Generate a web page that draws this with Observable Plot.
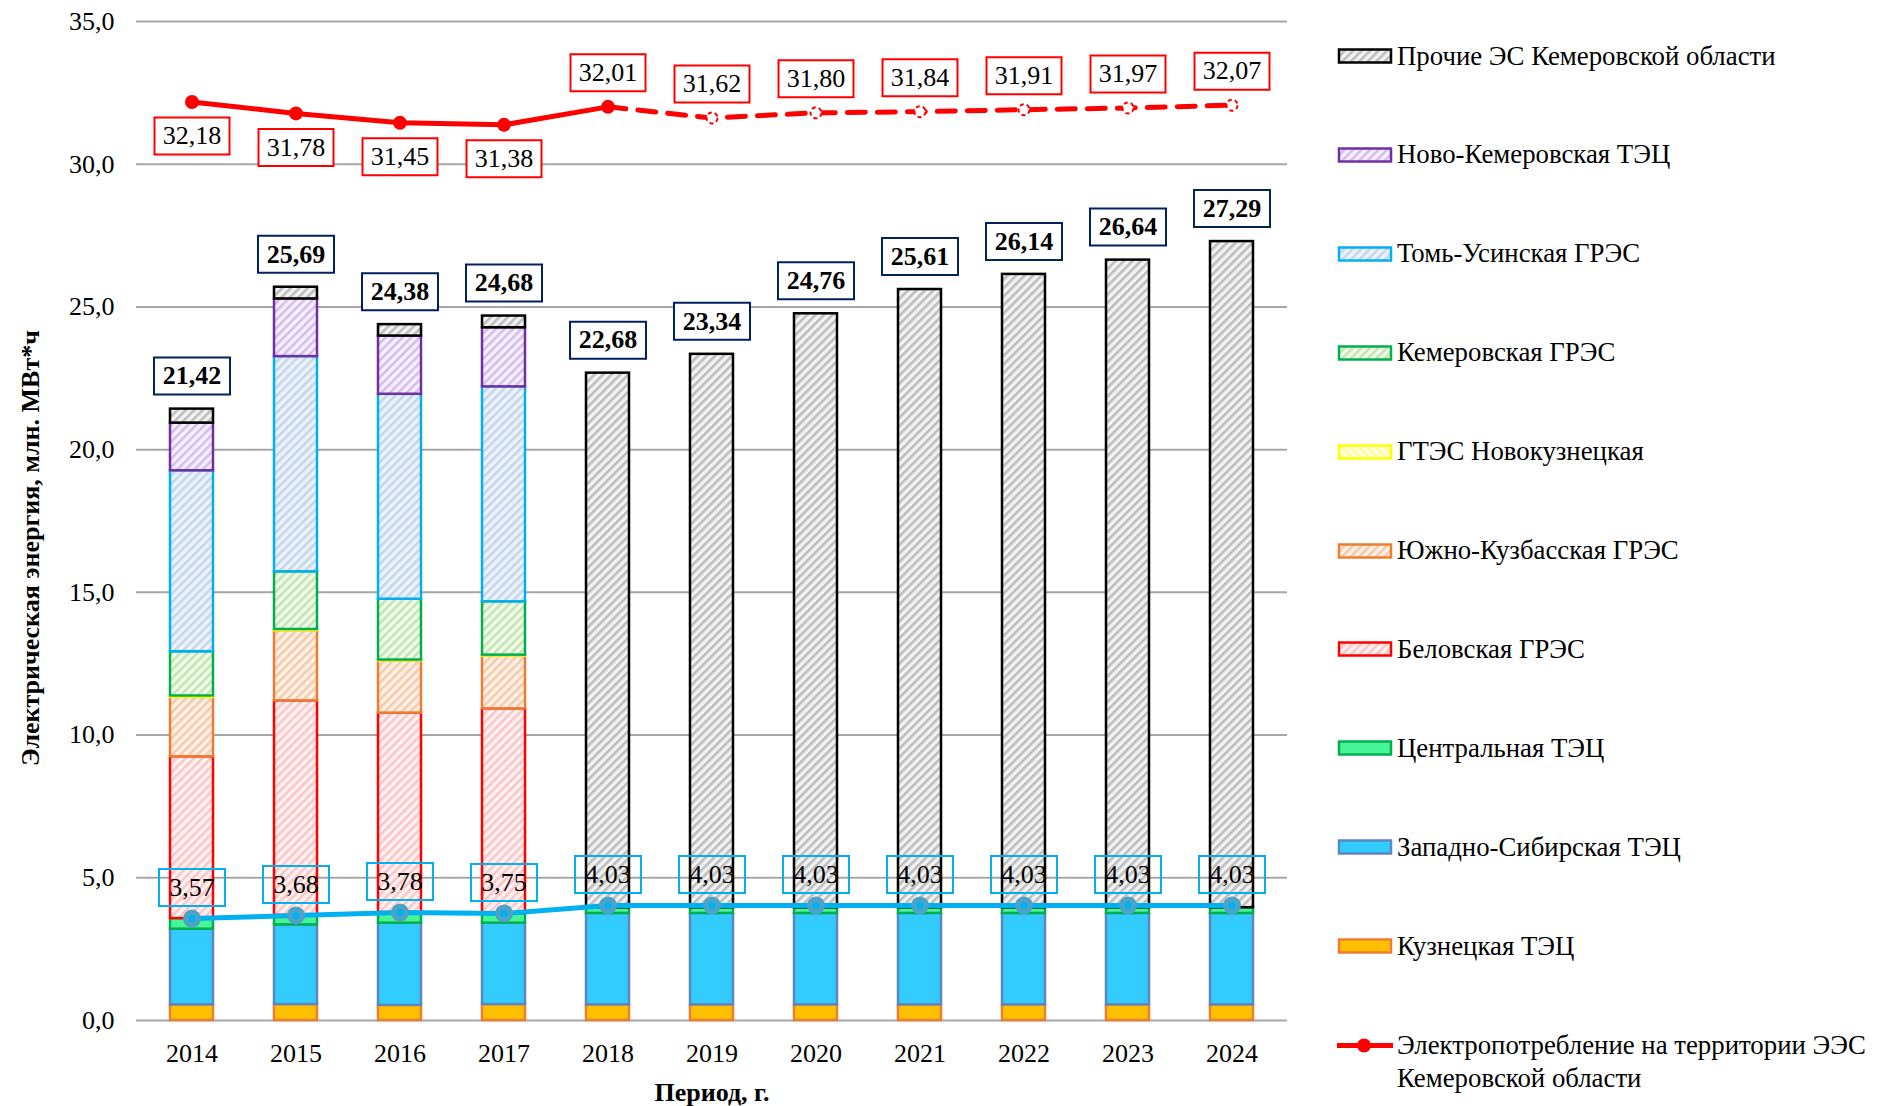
<!DOCTYPE html>
<html>
<head>
<meta charset="utf-8">
<script src="https://cdn.jsdelivr.net/npm/d3@7"></script>
<script src="https://cdn.jsdelivr.net/npm/@observablehq/plot@0.6"></script>
<style>
  body { margin: 0; background: #fff; }
  #wrap { position: relative; width: 1886px; height: 1106px; background: #fff; font-family: "Liberation Serif", "Times New Roman", serif; color: #000; }
  #legend { position: absolute; left: 1337px; top: 0; width: 549px; height: 1106px; }
  .item { position: absolute; left: 0; display: flex; align-items: center; font-size: 26.8px; line-height: 33px; white-space: nowrap; }
  .item svg { flex: none; margin-right: 4px; }
</style>
</head>
<body>
<svg width="0" height="0" style="position:absolute"><defs id="pdefs"></defs></svg>
<div id="wrap">
  <div id="chart"></div>
  <div id="legend"></div>
</div>
<script>
// ---------- data ----------
const years = ["2014","2015","2016","2017","2018","2019","2020","2021","2022","2023","2024"];
const kuzn    = [0.55, 0.56, 0.53, 0.56, 0.55, 0.55, 0.55, 0.55, 0.55, 0.55, 0.55];
const zapSib  = [2.65, 2.79, 2.88, 2.85, 3.20, 3.20, 3.20, 3.20, 3.20, 3.20, 3.20];
const central = [0.37, 0.33, 0.37, 0.34, 0.20, 0.20, 0.20, 0.20, 0.20, 0.20, 0.20];
const belov   = [5.67, 7.52, 6.99, 7.17, 0, 0, 0, 0, 0, 0, 0];
const yuzhKuz = [2.08, 2.46, 1.83, 1.85, 0, 0, 0, 0, 0, 0, 0];
const gtes    = [0.05, 0.04, 0.03, 0.03, 0, 0, 0, 0, 0, 0, 0];
const kemGres = [1.55, 2.02, 2.13, 1.87, 0, 0, 0, 0, 0, 0, 0];
const tomUs   = [6.34, 7.54, 7.18, 7.53, 0, 0, 0, 0, 0, 0, 0];
const novoKem = [1.67, 2.02, 2.04, 2.07, 0, 0, 0, 0, 0, 0, 0];
const prochie = [0.49, 0.41, 0.40, 0.41, 18.73, 19.39, 20.81, 21.66, 22.19, 22.69, 23.34];
const totals  = [21.42, 25.69, 24.38, 24.68, 22.68, 23.34, 24.76, 25.61, 26.14, 26.64, 27.29];
const consumption = [32.18, 31.78, 31.45, 31.38, 32.01, 31.62, 31.80, 31.84, 31.91, 31.97, 32.07];
const ownLine = [3.57, 3.68, 3.78, 3.75, 4.03, 4.03, 4.03, 4.03, 4.03, 4.03, 4.03];
const yTicks = [0, 5, 10, 15, 20, 25, 30, 35];

// series, bottom to top
const seriesNames = [
  "Кузнецкая ТЭЦ",
  "Западно-Сибирская ТЭЦ",
  "Центральная ТЭЦ",
  "Беловская ГРЭС",
  "Южно-Кузбасская ГРЭС",
  "ГТЭС Новокузнецкая",
  "Кемеровская ГРЭС",
  "Томь-Усинская ГРЭС",
  "Ново-Кемеровская ТЭЦ",
  "Прочие ЭС Кемеровской области"
];
const seriesValues = [kuzn, zapSib, central, belov, yuzhKuz, gtes, kemGres, tomUs, novoKem, prochie];

// ---------- styles ----------
const seriesStroke = ["#ED7D31", "#5B87C5", "#00B050", "#FF0000", "#ED7D31", "#FFFF00", "#00B050", "#00B0F0", "#7030A0", "#000000"];
// solid fill or [background, stripe, angle]
const seriesPaint = [
  "#FFC000",
  "#33CCFF",
  "#47F596",
  ["#fff3f3", "#ffc4c4", 45],
  ["#fdf2ea", "#f8c9a8", 45],
  ["#ffffee", "#ffff88", -45],
  ["#f2f9ee", "#c4e5ae", 45],
  ["#eef3fa", "#c3d6ee", 45],
  ["#f6f0fc", "#d4bdee", 45],
  ["#f2f2f2", "#bdbdbd", 45]
];

const defs = document.getElementById("pdefs");
const seriesFill = seriesPaint.map((p, k) => {
  if (typeof p === "string") return p;
  const id = "hatch" + k;
  defs.insertAdjacentHTML("beforeend",
    `<pattern id="${id}" patternUnits="userSpaceOnUse" width="6" height="6" patternTransform="rotate(${p[2]})">
       <rect width="6" height="6" fill="${p[0]}"/><rect width="2.6" height="6" fill="${p[1]}"/>
     </pattern>`);
  return `url(#${id})`;
});

const stackRows = years.flatMap((year, i) =>
  seriesNames.map((s, k) => ({year, series: s, k, value: seriesValues[k][i]}))
).filter(d => d.value > 0);

const rows = years.map((year, i) => ({year, i, cons: consumption[i], own: ownLine[i], total: totals[i]}));

const fmt2 = v => v.toFixed(2).replace(".", ",");
const fmt1 = v => v.toFixed(1).replace(".", ",");
const box = (w, h) => ({draw(ctx) { ctx.rect(-w / 2, -h / 2, w, h); }});

const RED = "#FF0000", BLUE = "#00B0F0", NAVY = "#002060";

const chart = Plot.plot({
  width: 1320,
  height: 1106,
  marginLeft: 136,
  marginRight: 33,
  marginTop: 21,
  marginBottom: 86,
  style: {fontFamily: "'Liberation Serif', 'Times New Roman', serif", fontSize: "26px", color: "#000", background: "#fff", overflow: "visible"},
  x: {domain: years, paddingInner: 0.59, paddingOuter: 0.295, label: null},
  y: {domain: [0, 35], label: null},
  color: {type: "identity"},
  marks: [
    Plot.gridY(yTicks, {stroke: "#a6a6a6", strokeOpacity: 1, strokeWidth: 2}),
    Plot.axisY(yTicks, {tickSize: 0, tickPadding: 22, tickFormat: fmt1, label: null, line: true, stroke: "#a6a6a6", strokeWidth: 2}),
    Plot.axisX({tickSize: 0, tickPadding: 23, label: null}),
    Plot.barY(stackRows, {
      x: "year", y: "value", z: "series", order: seriesNames,
      fill: d => seriesFill[d.k], stroke: d => seriesStroke[d.k], strokeWidth: 2.5
    }),
    // own-generation line (blue)
    Plot.line(rows, {x: "year", y: "own", stroke: BLUE, strokeWidth: 5}),
    Plot.dot(rows, {x: "year", y: "own", r: 9, fill: "#4BA3C7", stroke: "none"}),
    Plot.dot(rows, {x: "year", y: "own", r: 3.5, fill: BLUE, stroke: "none"}),
    Plot.dot(rows, {x: "year", y: "own", dy: -31, r: 1, symbol: box(66, 37), fill: "none", stroke: BLUE, strokeWidth: 2}),
    Plot.text(rows, {x: "year", y: "own", dy: -31, text: d => fmt2(d.own), fill: "#000"}),
    // consumption line (red)
    Plot.line(rows.filter(d => d.i <= 4), {x: "year", y: "cons", stroke: RED, strokeWidth: 5}),
    Plot.line(rows.filter(d => d.i >= 4), {x: "year", y: "cons", stroke: RED, strokeWidth: 5, strokeDasharray: "18 12"}),
    Plot.dot(rows.filter(d => d.i <= 4), {x: "year", y: "cons", r: 7, fill: RED, stroke: "none"}),
    Plot.dot(rows.filter(d => d.i > 4), {x: "year", y: "cons", r: 5.5, fill: "#fff", stroke: RED, strokeWidth: 2, strokeDasharray: "4 3"}),
    Plot.dot(rows.filter(d => d.i <= 3), {x: "year", y: "cons", dy: 34, r: 1, symbol: box(75, 37), fill: "#fff", stroke: RED, strokeWidth: 2}),
    Plot.text(rows.filter(d => d.i <= 3), {x: "year", y: "cons", dy: 34, text: d => fmt2(d.cons), fill: "#000"}),
    Plot.dot(rows.filter(d => d.i > 3), {x: "year", y: "cons", dy: -34, r: 1, symbol: box(75, 37), fill: "#fff", stroke: RED, strokeWidth: 2}),
    Plot.text(rows.filter(d => d.i > 3), {x: "year", y: "cons", dy: -34, text: d => fmt2(d.cons), fill: "#000"}),
    // totals
    Plot.dot(rows, {x: "year", y: "total", dy: -33, r: 1, symbol: box(76, 37), fill: "#fff", stroke: NAVY, strokeWidth: 2}),
    Plot.text(rows, {x: "year", y: "total", dy: -33, text: d => fmt2(d.total), fill: "#000", fontWeight: "bold"}),
    // axis titles
    Plot.text(["Электрическая энергия, млн. МВт*ч"], {text: d => d, frameAnchor: "left", textAnchor: "middle", rotate: -90, dx: -106, dy: 27, fontWeight: "bold", fill: "#000"}),
    Plot.text(["Период, г."], {text: d => d, frameAnchor: "bottom", textAnchor: "middle", dy: 80, fontWeight: "bold", fill: "#000"})
  ]
});
document.getElementById("chart").appendChild(chart);

// ---------- legend ----------
const legend = document.getElementById("legend");
const legendOrder = seriesNames.map((s, k) => k).reverse();
legendOrder.forEach((k, j) => {
  const div = document.createElement("div");
  div.className = "item";
  div.style.top = (56 + j * 98.9 - 16.5) + "px";
  div.innerHTML = `<svg width="56" height="16"><rect x="2" y="1.5" width="52" height="13" fill="${seriesFill[k]}" stroke="${seriesStroke[k]}" stroke-width="2.5"/></svg><span>${seriesNames[k]}</span>`;
  legend.appendChild(div);
});
{
  const div = document.createElement("div");
  div.className = "item";
  div.style.top = (56 + 10 * 98.9 - 16.5) + "px";
  div.style.alignItems = "flex-start";
  div.innerHTML = `<svg width="56" height="33"><line x1="0" y1="16.5" x2="56" y2="16.5" stroke="${RED}" stroke-width="5"/><circle cx="27" cy="16.5" r="7" fill="${RED}"/></svg><span>Электропотребление на территории ЭЭС<br>Кемеровской области</span>`;
  legend.appendChild(div);
}
</script>
</body>
</html>
